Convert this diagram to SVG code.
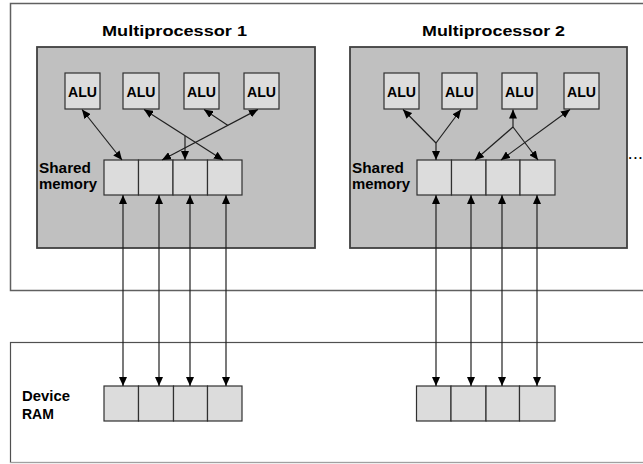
<svg xmlns="http://www.w3.org/2000/svg" width="643" height="464" viewBox="0 0 643 464">
<style>
.frame{fill:#fff;stroke:#606060;stroke-width:1.5}
.mp{fill:#c0c0c0;stroke:#404040;stroke-width:1.8}
.cell{fill:#dcdcdc;stroke:#303030;stroke-width:1.2}
.t{font-family:"Liberation Sans",Arial,sans-serif;font-weight:bold;fill:#000}
.title{font-size:15px}
.lbl{font-size:14px}
.c{stroke:#202020;stroke-width:1.2;fill:none}
.ab{marker-start:url(#ah);marker-end:url(#ah)}
.ae{marker-end:url(#ah)}
</style>
<defs>
<marker id="ah" markerUnits="userSpaceOnUse" markerWidth="9" markerHeight="8" refX="9" refY="4" orient="auto-start-reverse" viewBox="0 0 9 8">
<path d="M0,0 L9,4 L0,8 z" fill="#000"/>
</marker>
</defs>
<rect width="643" height="464" fill="#fff"/>
<g id="gpu-frame">
<rect class="frame" x="10.5" y="3.5" width="640" height="287"/>
</g>
<g id="device-frame">
<rect x="10.5" y="342.5" width="640" height="120" fill="#fff" stroke="#505050" stroke-width="1.2"/>
<path d="M10,462.5 H643" stroke="#a0a0a0" stroke-width="1.2"/>
<text class="t lbl" x="22" y="401" textLength="48" lengthAdjust="spacingAndGlyphs">Device</text>
<text class="t lbl" x="22" y="419">RAM</text>
</g>
<g id="mp1">
<rect class="mp" x="37" y="47" width="278" height="201"/>
<text class="t title" x="102" y="36" textLength="145" lengthAdjust="spacingAndGlyphs">Multiprocessor 1</text>
<text class="t lbl" x="39" y="172.5" textLength="52" lengthAdjust="spacingAndGlyphs">Shared</text>
<text class="t lbl" x="39" y="189" textLength="58" lengthAdjust="spacingAndGlyphs">memory</text>
</g>
<g id="mp2">
<rect class="mp" x="350" y="47" width="277" height="201"/>
<text class="t title" x="422" y="36" textLength="143" lengthAdjust="spacingAndGlyphs">Multiprocessor 2</text>
<text class="t lbl" x="352" y="172.5" textLength="52" lengthAdjust="spacingAndGlyphs">Shared</text>
<text class="t lbl" x="352" y="189" textLength="58" lengthAdjust="spacingAndGlyphs">memory</text>
</g>
<g id="mp1-alu1"><rect class="cell" x="65" y="73" width="35" height="36"/><text class="t lbl" x="68" y="97" textLength="29" lengthAdjust="spacingAndGlyphs">ALU</text></g>
<g id="mp1-alu2"><rect class="cell" x="123" y="73" width="36" height="36"/><text class="t lbl" x="126.5" y="97" textLength="29" lengthAdjust="spacingAndGlyphs">ALU</text></g>
<g id="mp1-alu3"><rect class="cell" x="184" y="73" width="35" height="36"/><text class="t lbl" x="187" y="97" textLength="29" lengthAdjust="spacingAndGlyphs">ALU</text></g>
<g id="mp1-alu4"><rect class="cell" x="244" y="73" width="35" height="36"/><text class="t lbl" x="247" y="97" textLength="29" lengthAdjust="spacingAndGlyphs">ALU</text></g>
<g id="mp2-alu1"><rect class="cell" x="384" y="73" width="35" height="36"/><text class="t lbl" x="387" y="97" textLength="29" lengthAdjust="spacingAndGlyphs">ALU</text></g>
<g id="mp2-alu2"><rect class="cell" x="442" y="73" width="35" height="36"/><text class="t lbl" x="445" y="97" textLength="29" lengthAdjust="spacingAndGlyphs">ALU</text></g>
<g id="mp2-alu3"><rect class="cell" x="502" y="73" width="35" height="36"/><text class="t lbl" x="505" y="97" textLength="29" lengthAdjust="spacingAndGlyphs">ALU</text></g>
<g id="mp2-alu4"><rect class="cell" x="564" y="73" width="35" height="36"/><text class="t lbl" x="567" y="97" textLength="29" lengthAdjust="spacingAndGlyphs">ALU</text></g>
<g id="mp1-shared">
<rect class="cell" x="104" y="160" width="34.5" height="35"/><rect class="cell" x="138.5" y="160" width="34.5" height="35"/><rect class="cell" x="173" y="160" width="34.5" height="35"/><rect class="cell" x="207.5" y="160" width="34.5" height="35"/>
</g>
<g id="mp2-shared">
<rect class="cell" x="417" y="160" width="34.5" height="35"/><rect class="cell" x="451.5" y="160" width="34.5" height="35"/><rect class="cell" x="486" y="160" width="34" height="35"/><rect class="cell" x="520" y="160" width="35" height="35"/>
</g>
<g id="ram1">
<rect class="cell" x="104" y="386" width="34.5" height="35"/><rect class="cell" x="138.5" y="386" width="35" height="35"/><rect class="cell" x="173.5" y="386" width="34" height="35"/><rect class="cell" x="207.5" y="386" width="34.5" height="35"/>
</g>
<g id="ram2">
<rect class="cell" x="416.5" y="386" width="34.5" height="35"/><rect class="cell" x="451" y="386" width="35" height="35"/><rect class="cell" x="486" y="386" width="33.5" height="35"/><rect class="cell" x="519.5" y="386" width="35.5" height="35"/>
</g>
<g id="ellipsis"><text class="t" font-size="12" x="628.5" y="159" letter-spacing="1.8">...</text></g>
<g id="connectors">
<path class="c ab" d="M82,109.5 L122,160"/>
<path class="c ab" d="M144,109.5 L223,160"/>
<path class="c ab" d="M258,109.5 L162,160"/>
<path class="c ae" d="M185,136 L185,160"/>
<path class="c ae" d="M228,125.5 L204,109.5"/>
<path class="c ab" d="M123,195 L123,386"/>
<path class="c ab" d="M159,195 L159,386"/>
<path class="c ab" d="M190,195 L190,386"/>
<path class="c ab" d="M226,195 L226,386"/>
<path class="c ae" d="M436,143 L403,109.5"/>
<path class="c ae" d="M436,143 L461,109.5"/>
<path class="c ae" d="M436,143 L436,160"/>
<path class="c ae" d="M513,127 L513,109.5"/>
<path class="c ae" d="M513,127 L475,160"/>
<path class="c ae" d="M513,127 L538,160"/>
<path class="c ab" d="M570,109.5 L501,160"/>
<path class="c ab" d="M436,195 L436,386"/>
<path class="c ab" d="M471,195 L471,386"/>
<path class="c ab" d="M502,195 L502,386"/>
<path class="c ab" d="M537,195 L537,386"/>
</g>
</svg>
